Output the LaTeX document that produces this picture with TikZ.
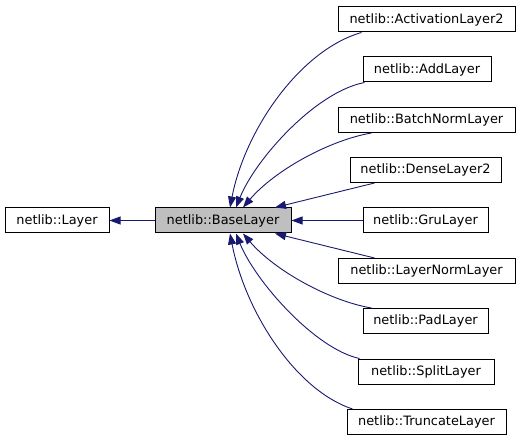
\documentclass[tikz,border=0pt]{standalone}
\usepackage{fontspec}
\setmainfont{DejaVu Sans}
\usetikzlibrary{arrows.meta,calc}
\definecolor{edgeblue}{HTML}{191970}
\definecolor{basegray}{HTML}{BFBFBF}
\begin{document}
\begin{tikzpicture}[x=1pt,y=-1pt,
  box/.style={draw=black,line width=1pt,minimum height=25pt,inner sep=0pt,font=\fontsize{12.9}{14}\selectfont,anchor=center},
  edge/.style={draw=edgeblue,line width=0.9pt,-{Triangle[length=11pt,width=8pt]},color=edgeblue}]
\useasboundingbox (0,0) rectangle (521,443);
\node[box,minimum width=104pt] (layer) at (57,220.5) {netlib::Layer};
\node[box,minimum width=136pt,fill=basegray] (base) at (223,220.5) {netlib::BaseLayer};
\node[box,minimum width=177pt] (act) at (426.5,19.5) {netlib::ActivationLayer2};
\node[box,minimum width=128pt] (add) at (427,69.5) {netlib::AddLayer};
\node[box,minimum width=177pt] (batch) at (426.5,120) {netlib::BatchNormLayer};
\node[box,minimum width=151pt] (dense) at (425.5,170) {netlib::DenseLayer2};
\node[box,minimum width=125pt] (gru) at (425.5,220.5) {netlib::GruLayer};
\node[box,minimum width=177pt] (lnorm) at (426.5,271) {netlib::LayerNormLayer};
\node[box,minimum width=125pt] (pad) at (425.5,321) {netlib::PadLayer};
\node[box,minimum width=136pt] (split) at (426,371.5) {netlib::SplitLayer};
\node[box,minimum width=159pt] (trunc) at (426.5,422) {netlib::TruncateLayer};
\draw[edge] (base.west) -- (layer.east);
\draw[edge] ($(act.south west)+(24,0)$) .. controls (300,50) and (245,130) .. ($(base.north)+(7,0)$);
\draw[edge] ($(add.south west)+(2,0)$) .. controls (315,92) and (255,160) .. ($(base.north)+(13,0)$);
\draw[edge] ($(batch.south west)+(34,0)$) .. controls (330,140) and (275,170) .. ($(base.north)+(20,0)$);
\draw[edge] ($(dense.south west)+(25,0)$) -- ($(base.north)+(52,0)$);
\draw[edge] (gru.west) -- (base.east);
\draw[edge] ($(lnorm.north west)+(37,0)$) -- ($(base.south)+(52,0)$);
\draw[edge] ($(pad.north west)+(9,0)$) .. controls (330,301) and (275,271) .. ($(base.south)+(20,0)$);
\draw[edge] ($(split.north west)+(2,0)$) .. controls (315,349) and (255,281) .. ($(base.south)+(13,0)$);
\draw[edge] ($(trunc.north west)+(6,0)$) .. controls (295,390) and (245,311) .. ($(base.south)+(7,0)$);
\end{tikzpicture}
\end{document}
